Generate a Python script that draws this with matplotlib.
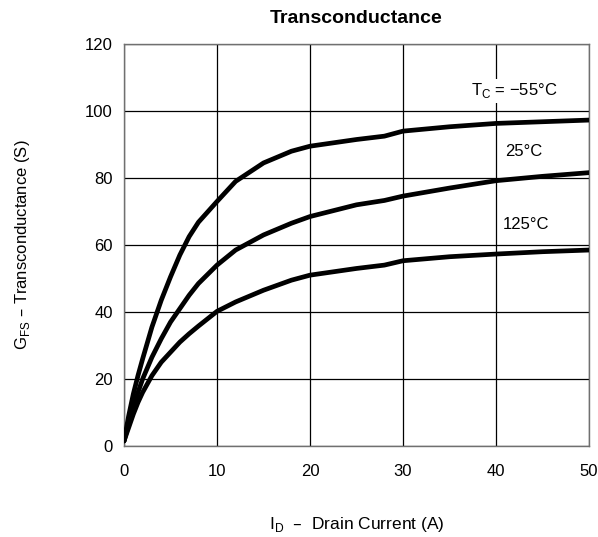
import matplotlib
matplotlib.use("Agg")
import matplotlib.pyplot as plt

# Drain current (A)
current = [0, 0.5, 1, 1.5, 2, 3, 4, 5, 6, 7, 8, 10, 12, 15, 18, 20, 25, 28, 30, 35, 40, 45, 50]

# Transconductance (S) per case temperature
gfs_m55 = [1.5, 9, 15.5, 21, 26, 35.5, 43.5, 50.5, 57, 62.5, 66.8, 73, 79, 84.5, 88,
           89.5, 91.5, 92.5, 94, 95.3, 96.3, 96.8, 97.3]
gfs_25 = [1.5, 6.5, 11.5, 16, 20, 26.5, 32, 37, 41, 45, 48.5, 54, 58.5, 63, 66.5,
          68.5, 72, 73.3, 74.6, 77, 79.2, 80.5, 81.6]
gfs_125 = [1.5, 5.5, 9.5, 13, 16, 21, 25, 28, 31, 33.5, 35.8, 40.2, 43, 46.5, 49.5,
           51, 53, 54, 55.3, 56.5, 57.3, 58, 58.5]

curve_labels = ["T$_\\mathregular{C}$ = \u221255\u00b0C", "25\u00b0C", "125\u00b0C"]
label_pos = [(42, 106), (43, 88), (43.2, 66)]

plt.rcParams['font.family'] = ['Liberation Sans', 'DejaVu Sans']

fig = plt.figure(figsize=(5.98, 5.37), dpi=100)
ax = fig.add_axes([0.2074, 0.1695, 0.7776, 0.7485])

for y in (gfs_m55, gfs_25, gfs_125):
    ax.plot(current, y, color='black', linewidth=3.4, solid_joinstyle='round',
            solid_capstyle='round', zorder=3)

for text, (x, y) in zip(curve_labels, label_pos):
    ax.text(x, y, text, ha='center', va='center', fontsize=12, zorder=4,
            bbox=dict(facecolor='white', edgecolor='none', pad=2))

ax.set_xlim(0, 50)
ax.set_ylim(0, 120)
ax.set_xticks(range(0, 51, 10))
ax.set_yticks(range(0, 121, 20))
ax.grid(True, color='black', linewidth=0.9)
ax.set_axisbelow(True)
ax.tick_params(axis='both', length=0, labelsize=12)
ax.tick_params(axis='x', pad=13)
ax.tick_params(axis='y', pad=8)
for s in ax.spines.values():
    s.set_color('#707070')
    s.set_linewidth(1.0)

fig.text(0.596, 0.966, "Transconductance", ha='center', va='center',
         fontsize=14, fontweight='bold')
fig.text(0.596, 0.024, "I$_\\mathregular{D}$  \u2013  Drain Current (A)", ha='center', va='center',
         fontsize=12.5)
fig.text(0.037, 0.544, "G$_\\mathregular{FS}$ \u2013 Transconductance (S)", ha='center', va='center',
         rotation=90, fontsize=12)

fig.savefig("out.png", dpi=100)
